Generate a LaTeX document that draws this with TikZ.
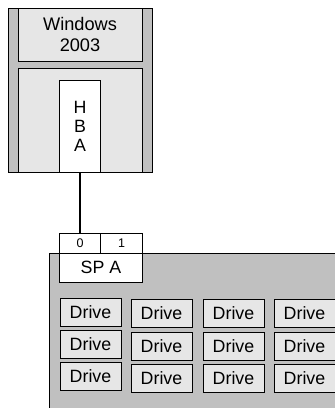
\documentclass[tikz,border=0pt]{standalone}
\usepackage{fontspec}
\setmainfont{Liberation Sans}
\usetikzlibrary{positioning}
\definecolor{panelgray}{HTML}{C0C0C0}
\definecolor{boxgray}{HTML}{E6E6E6}

\begin{document}
\begin{tikzpicture}[
    x=1pt, y=-1pt,
    every node/.style={
            rectangle,
            draw,
            line width=0.8pt,
            inner sep=0pt,
            outer sep=0pt,
            text centered,
            font=\fontsize{17.8}{19}\selectfont
        },
    frame_block/.style={fill=panelgray},
    os_block/.style={fill=boxgray, minimum width=124pt},
    hba_block/.style={fill=white, align=center, minimum width=41pt, minimum height=92pt},
    port_block/.style={fill=white, minimum height=20pt, font=\fontsize{12.5}{14}\selectfont},
    drive_block/.style={fill=boxgray, minimum width=61pt, minimum height=28pt},
    cable/.style={line width=2.5pt},
    ]

    \useasboundingbox (0,0) rectangle (335,408);
    \clip (0,0) rectangle (335,408);

    % --- Host ---
    \node (host) [frame_block, minimum width=144pt, minimum height=164pt] at (80,90) {};
    \node (windows) [os_block, minimum height=53pt, align=center, anchor=north,
        font=\fontsize{18.2}{21.7}\selectfont] at (host.north) {Windows\\2003};
    \node (host_body) [os_block, minimum height=104pt, anchor=south] at (host.south) {};
    \node (hba) [hba_block, anchor=south] at (host_body.south) {H\\B\\A};

    % --- Storage system ---
    \node (storage) [frame_block, minimum width=290pt, minimum height=160pt, anchor=north west] at (49,253) {};
    \node (sp_a) [fill=white, minimum width=83pt, minimum height=29pt, anchor=north west]
        at (hba.south west |- storage.north) {SP A};
    \node (port_0) [port_block, minimum width=41pt, anchor=south west] at (sp_a.north west) {0};
    \node (port_1) [port_block, minimum width=42pt, anchor=south east] at (sp_a.north east) {1};

    % --- Drives ---
    \node (drive_a1) [drive_block] at (90.5,312) {Drive};
    \node (drive_a2) [drive_block, below=4pt of drive_a1] {Drive};
    \node (drive_a3) [drive_block, below=4pt of drive_a2] {Drive};
    \node (drive_b1) [drive_block] at (161.5,313) {Drive};
    \node (drive_b2) [drive_block, below=5pt of drive_b1] {Drive};
    \node (drive_b3) [drive_block, below=4pt of drive_b2] {Drive};
    \node (drive_c1) [drive_block, right=11pt of drive_b1] {Drive};
    \node (drive_c2) [drive_block, right=11pt of drive_b2] {Drive};
    \node (drive_c3) [drive_block, right=11pt of drive_b3] {Drive};
    \node (drive_d1) [drive_block, right=10pt of drive_c1] {Drive};
    \node (drive_d2) [drive_block, right=10pt of drive_c2] {Drive};
    \node (drive_d3) [drive_block, right=10pt of drive_c3] {Drive};

    % --- Cable ---
    \draw[cable] (hba) -- (port_0);

\end{tikzpicture}
\end{document}
